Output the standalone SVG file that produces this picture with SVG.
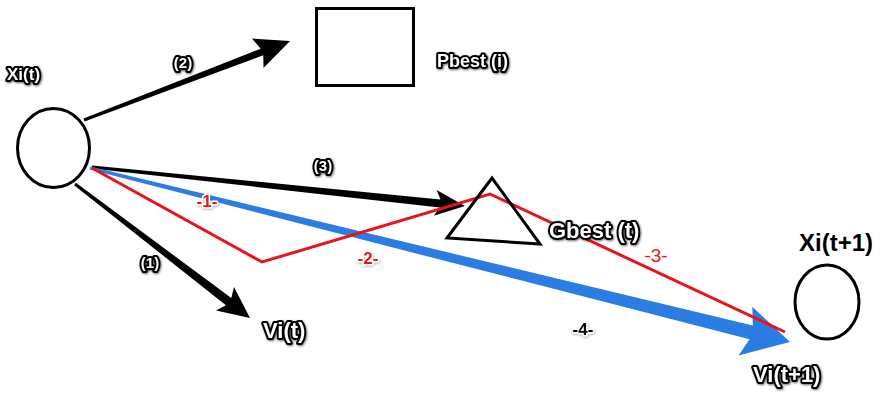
<svg xmlns="http://www.w3.org/2000/svg" width="880" height="393" viewBox="0 0 880 393">
  <defs>
    <filter id="soft" x="-20%" y="-40%" width="140%" height="180%">
      <feDropShadow dx="0.8" dy="1" stdDeviation="1.3" flood-color="#000" flood-opacity="0.6"/>
    </filter>
    <filter id="halo" x="-20%" y="-40%" width="140%" height="180%">
      <feDropShadow dx="0.5" dy="1" stdDeviation="1.3" flood-color="#555" flood-opacity="0.5"/>
    </filter>
  </defs>
  <style>
    .shape { fill: none; stroke: #000; stroke-width: 3; }
    .lbl { font-family: "Liberation Sans", Arial, sans-serif; font-weight: bold; }
    .outl { fill: #fff; stroke: #000; stroke-width: 4; paint-order: stroke; stroke-linejoin: round; filter: url(#soft); }
    .redlbl { fill: #e8141b; stroke: #fff; stroke-width: 3; paint-order: stroke; stroke-linejoin: round; filter: url(#halo); }
    .blklbl { fill: #000; stroke: #fff; stroke-width: 3; paint-order: stroke; stroke-linejoin: round; filter: url(#halo); }
    .arrow { fill: #000; }
    .velocity { fill: #2b7de3; }
    .path { fill: none; stroke: #e8141b; stroke-width: 3; stroke-linejoin: miter; }
  </style>
  <rect width="880" height="393" fill="#fff"/>

  <!-- connectors -->
  <g id="connectors">
    <!-- (2) towards Pbest -->
    <polygon class="arrow" points="83.5,118.6 260.7,48.7 252,38.5 290,41 263.5,68 263.3,55.3 84.5,121.4"/>
    <!-- (3) towards Gbest -->
    <polygon class="arrow" points="92.2,165.5 440.5,199.4 436.6,190 465,206 433.8,215.8 439.7,207.4 91.8,168.5"/>
    <!-- (1) current velocity -->
    <polygon class="arrow" points="75.9,182.8 231.3,298 234,287 250,318 216.1,310.5 225.9,305.2 74.1,185.2"/>
    <!-- -4- new velocity -->
    <polygon class="velocity" points="90.4,166.5 752.9,325.6 752.3,306.8 790,342 738.5,355.4 749.5,339.2 89.6,169.5"/>
    <!-- -1- -2- -3- vector sum -->
    <polyline class="path" points="92,168 262,262 490,194 785,332"/>
  </g>

  <g id="xi-t">
    <ellipse class="shape" cx="53.5" cy="148" rx="36" ry="39.5"/>
    <text class="lbl outl" x="7" y="80" font-size="17">Xi(t)</text>
  </g>

  <g id="pbest">
    <rect class="shape" x="316.5" y="8.5" width="97" height="77"/>
    <text class="lbl outl" x="437" y="67" font-size="18">Pbest (i)</text>
  </g>

  <g id="gbest">
    <polygon class="shape" points="492,178 447,238 540,244" stroke-linejoin="miter"/>
    <text class="lbl outl" x="549" y="238" font-size="22">Gbest (t)</text>
  </g>

  <g id="vi-t">
    <text class="lbl outl" x="263" y="338" font-size="22">Vi(t)</text>
  </g>

  <g id="xi-t1">
    <ellipse class="shape" cx="827" cy="302" rx="32" ry="37"/>
    <text class="lbl" x="799" y="251" font-size="24" fill="#000">Xi(t+1)</text>
  </g>

  <g id="vi-t1">
    <text class="lbl outl" x="753" y="382" font-size="22">Vi(t+1)</text>
  </g>

  <g id="labels">
    <text class="lbl outl" x="183" y="68" font-size="15" text-anchor="middle">(2)</text>
    <text class="lbl outl" x="323" y="171" font-size="15" text-anchor="middle">(3)</text>
    <text class="lbl outl" x="150" y="268" font-size="15" text-anchor="middle">(1)</text>
    <text class="lbl redlbl" x="207" y="207" font-size="17" text-anchor="middle">-1-</text>
    <text class="lbl redlbl" x="368" y="264" font-size="17" text-anchor="middle">-2-</text>
    <text x="656" y="262" font-size="19" text-anchor="middle" fill="#e8141b" font-family="Liberation Sans, Arial, sans-serif">-3-</text>
    <text class="lbl blklbl" x="583" y="335" font-size="17" text-anchor="middle">-4-</text>
  </g>
</svg>
